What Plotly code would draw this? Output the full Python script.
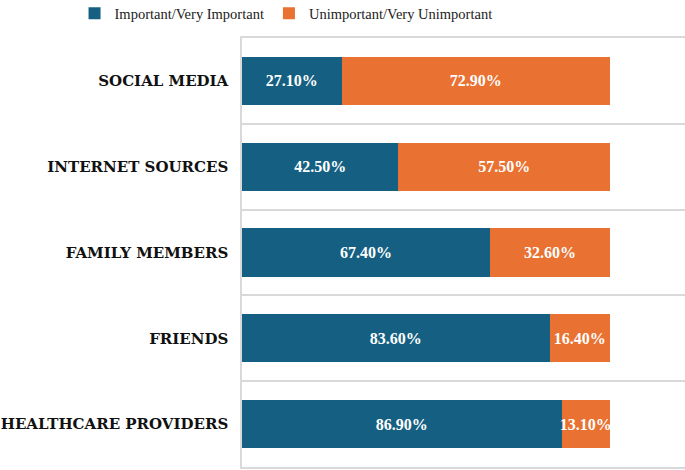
import plotly.graph_objects as go

categories = ["SOCIAL MEDIA", "INTERNET SOURCES", "FAMILY MEMBERS", "FRIENDS", "HEALTHCARE PROVIDERS"]
important = [27.10, 42.50, 67.40, 83.60, 86.90]
unimportant = [72.90, 57.50, 32.60, 16.40, 13.10]
series_names = ["Important/Very Important", "Unimportant/Very Unimportant"]
colors = ["#156082", "#E97132"]

fig = go.Figure()
for name, vals, col in zip(series_names, [important, unimportant], colors):
    fig.add_trace(go.Bar(
        y=categories, x=vals, name=name, orientation="h",
        marker=dict(color=col, line=dict(width=0)),
        text=[f"{v:.2f}%" for v in vals], textposition="inside",
        insidetextanchor="middle", constraintext="none",
        textfont=dict(family="Liberation Serif", size=16, color="white", weight="bold"),
    ))

fig.update_layout(
    barmode="stack", bargap=0.44,
    width=685, height=470,
    margin=dict(l=242, r=0, t=38, b=3, autoexpand=False),
    plot_bgcolor="white", paper_bgcolor="white",
    legend=dict(orientation="h", traceorder="normal", x=-0.378, xanchor="left",
                xref="paper", y=1.095, yanchor="top", yref="paper",
                font=dict(family="Liberation Serif", size=14.5, color="#222"),
                itemwidth=30),
    xaxis=dict(range=[0, 120.4], showgrid=False, showticklabels=False, zeroline=False,
               showline=True, mirror=True, linecolor="#d9d9d9", linewidth=1.5,
               fixedrange=True),
    yaxis=dict(categoryorder="array", categoryarray=categories, autorange="reversed",
               tickson="boundaries", showgrid=True, gridcolor="#d9d9d9", gridwidth=1.5,
               showline=True, linecolor="#d9d9d9", linewidth=1.5, ticks="",
               ticklabelstandoff=9,
               tickfont=dict(family="DejaVu Serif", size=15, color="#111", weight="bold")),
)
fig.write_html("out.html")
